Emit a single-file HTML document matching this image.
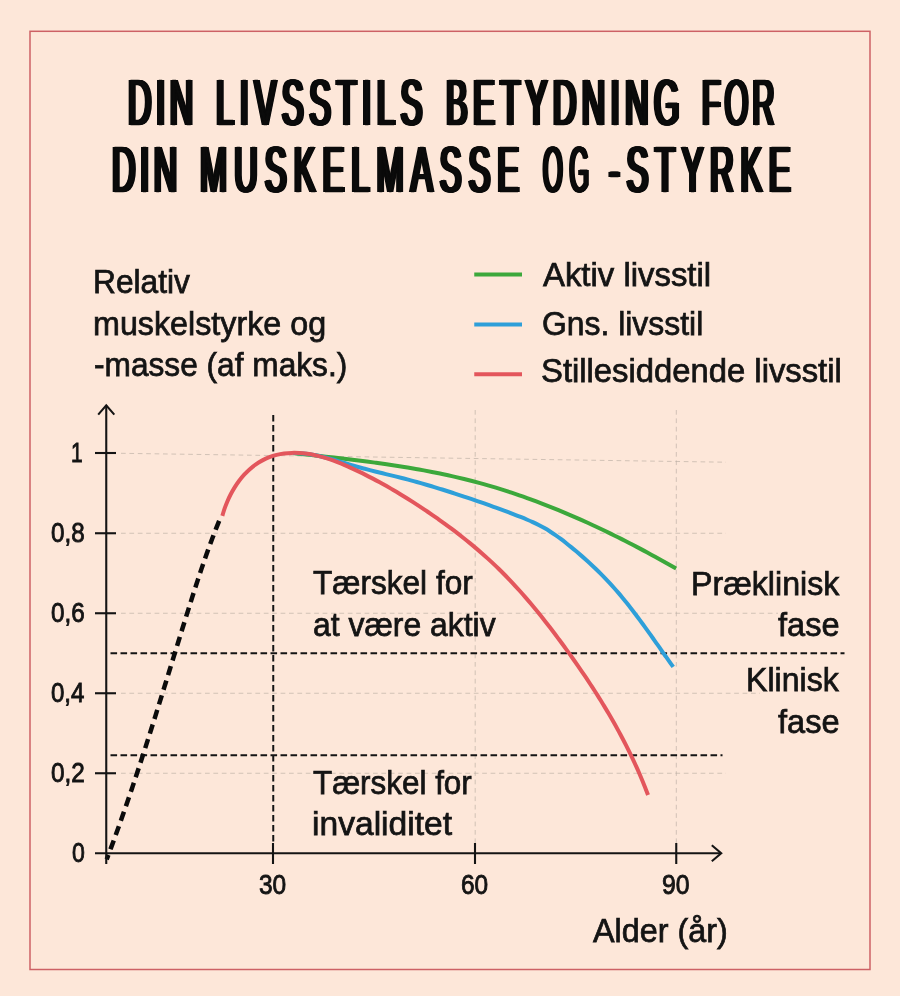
<!DOCTYPE html>
<html lang="da">
<head>
<meta charset="utf-8">
<title>Din livsstils betydning for din muskelmasse og -styrke</title>
<style>
html,body{margin:0;padding:0;background:#fde7d9;}
#page{position:relative;width:900px;height:996px;overflow:hidden;background:#fde7d9;font-family:"Liberation Sans", sans-serif;color:#141414;}
#page svg{position:absolute;left:0;top:0;}
.t{position:absolute;white-space:nowrap;line-height:1;transform-origin:0 0;margin:0;}
.b{font-size:33.5px;-webkit-text-stroke:0.75px #141414;}
.k{font-size:27.5px;-webkit-text-stroke:0.9px #141414;}
.w{position:absolute;left:0;top:0;transform-origin:0 0;}
.h{font-size:64.9px;font-weight:normal;color:#0b0b0b;-webkit-text-stroke:0.7px #0b0b0b;text-shadow:1.40px 0 0 #0b0b0b,-1.40px 0 0 #0b0b0b,2.80px 0 0 #0b0b0b,-2.80px 0 0 #0b0b0b,4.20px 0 0 #0b0b0b,-4.20px 0 0 #0b0b0b;}
</style>
</head>
<body>
<div id="page">
<svg width="900" height="996" viewBox="0 0 900 996" fill="none">
<rect x="30" y="31.3" width="840" height="938.2" stroke="#cd6165" stroke-width="1.5"/>
<g stroke="#b9ada2" stroke-width="0.65" stroke-dasharray="4.7 3.7">
<path d="M121,453.3 L726,462.2"/>
<path d="M121,533.25 H726"/>
<path d="M121,613.25 H778"/>
<path d="M121,693.25 H760"/>
<path d="M121,773.25 H726"/>
<path d="M475.2,410 V843"/>
<path d="M676.3,410 V843"/>
</g>
<g stroke="#141414" stroke-width="2" stroke-dasharray="6.6 3.4">
<path d="M110.5,653.25 H844.5"/>
<path d="M110.5,755.25 H722.5"/>
<path d="M273.25,415 V843"/>
</g>
<path d="M293.01,453.09 C294.37,453.23 298.45,453.67 301.18,453.96 C303.90,454.25 306.63,454.54 309.36,454.83 C312.09,455.13 314.82,455.42 317.55,455.72 C320.28,456.02 323.01,456.32 325.74,456.62 C328.47,456.92 331.20,457.23 333.94,457.54 C336.67,457.85 339.40,458.17 342.13,458.49 C344.87,458.80 347.60,459.13 350.33,459.46 C353.07,459.79 355.80,460.13 358.53,460.47 C361.26,460.81 363.99,461.16 366.72,461.52 C369.45,461.87 372.18,462.24 374.91,462.61 C377.64,462.98 380.37,463.36 383.09,463.75 C385.82,464.14 388.54,464.54 391.27,464.95 C393.99,465.36 396.71,465.77 399.43,466.20 C402.14,466.63 404.86,467.07 407.57,467.52 C410.29,467.98 413.00,468.44 415.71,468.91 C418.42,469.39 421.12,469.88 423.83,470.38 C426.53,470.88 429.23,471.39 431.93,471.92 C434.62,472.45 437.31,472.99 440.00,473.55 C442.69,474.11 445.38,474.68 448.06,475.27 C450.74,475.85 453.42,476.46 456.09,477.08 C458.77,477.70 461.44,478.33 464.10,478.99 C466.77,479.64 469.43,480.31 472.08,481.00 C474.74,481.69 477.39,482.40 480.03,483.12 C482.68,483.85 485.32,484.59 487.96,485.36 C490.59,486.12 493.22,486.90 495.85,487.70 C498.47,488.49 501.09,489.31 503.71,490.14 C506.32,490.97 508.93,491.82 511.54,492.68 C514.14,493.54 516.74,494.42 519.34,495.32 C521.93,496.22 524.53,497.13 527.11,498.06 C529.70,498.98 532.28,499.93 534.85,500.89 C537.43,501.84 540.00,502.82 542.56,503.80 C545.13,504.79 547.69,505.79 550.24,506.81 C552.80,507.82 555.35,508.85 557.89,509.90 C560.44,510.94 562.98,512.00 565.51,513.07 C568.05,514.14 570.57,515.22 573.10,516.32 C575.62,517.41 578.14,518.52 580.66,519.64 C583.17,520.76 585.68,521.90 588.19,523.04 C590.69,524.18 593.19,525.34 595.68,526.51 C598.18,527.68 600.67,528.85 603.15,530.04 C605.63,531.23 608.11,532.43 610.59,533.64 C613.06,534.85 615.53,536.08 617.99,537.31 C620.46,538.54 622.91,539.78 625.37,541.03 C627.82,542.28 630.27,543.54 632.71,544.81 C635.15,546.07 637.59,547.35 640.03,548.64 C642.46,549.92 644.89,551.22 647.31,552.52 C649.73,553.82 652.15,555.13 654.56,556.45 C656.97,557.77 659.38,559.09 661.78,560.42 C664.18,561.76 666.58,563.10 668.97,564.44 C671.36,565.79 674.94,567.82 676.13,568.50" stroke="#3ca83b" stroke-width="4"/>
<path d="M292.98,453.04 C294.09,453.07 297.43,453.06 299.64,453.18 C301.84,453.30 304.03,453.51 306.20,453.76 C308.38,454.02 310.54,454.35 312.69,454.72 C314.85,455.09 316.99,455.53 319.12,456.00 C321.26,456.46 323.38,456.98 325.50,457.52 C327.62,458.07 329.74,458.65 331.85,459.24 C333.96,459.83 336.06,460.46 338.17,461.08 C340.27,461.70 342.38,462.35 344.48,462.98 C346.58,463.62 348.69,464.26 350.79,464.88 C352.90,465.51 355.01,466.12 357.13,466.72 C359.24,467.31 361.36,467.89 363.48,468.46 C365.60,469.02 367.72,469.57 369.85,470.12 C371.97,470.66 374.10,471.19 376.23,471.72 C378.36,472.25 380.49,472.77 382.62,473.29 C384.75,473.81 386.89,474.33 389.02,474.85 C391.15,475.37 393.28,475.89 395.41,476.41 C397.54,476.94 399.67,477.47 401.79,478.01 C403.92,478.55 406.04,479.10 408.17,479.67 C410.29,480.23 412.41,480.80 414.52,481.38 C416.64,481.96 418.76,482.56 420.87,483.16 C422.98,483.76 425.09,484.37 427.20,484.99 C429.30,485.60 431.41,486.23 433.51,486.87 C435.61,487.50 437.71,488.14 439.81,488.79 C441.91,489.44 444.00,490.09 446.10,490.76 C448.19,491.42 450.28,492.08 452.37,492.76 C454.46,493.43 456.54,494.11 458.63,494.79 C460.71,495.47 462.79,496.16 464.87,496.85 C466.95,497.55 469.03,498.24 471.10,498.95 C473.18,499.65 475.25,500.36 477.32,501.07 C479.40,501.79 481.47,502.51 483.53,503.23 C485.60,503.96 487.67,504.69 489.74,505.43 C491.80,506.17 493.87,506.91 495.93,507.66 C497.99,508.41 500.05,509.16 502.11,509.92 C504.18,510.68 506.24,511.45 508.29,512.23 C510.35,513.00 512.41,513.78 514.47,514.57 C516.52,515.36 518.58,516.15 520.62,516.97 C522.67,517.79 524.71,518.62 526.73,519.47 C528.76,520.33 530.78,521.21 532.77,522.12 C534.76,523.04 536.74,523.98 538.69,524.98 C540.64,525.97 542.56,527.01 544.45,528.09 C546.35,529.18 548.21,530.32 550.05,531.49 C551.89,532.66 553.70,533.88 555.50,535.13 C557.29,536.38 559.06,537.66 560.82,538.97 C562.57,540.28 564.31,541.63 566.03,542.98 C567.76,544.34 569.46,545.72 571.16,547.12 C572.87,548.51 574.56,549.92 576.24,551.34 C577.92,552.76 579.59,554.19 581.25,555.63 C582.92,557.07 584.57,558.53 586.21,560.00 C587.85,561.47 589.48,562.95 591.09,564.44 C592.70,565.94 594.31,567.44 595.89,568.97 C597.48,570.49 599.05,572.03 600.60,573.58 C602.16,575.13 603.70,576.70 605.22,578.28 C606.74,579.86 608.24,581.46 609.73,583.07 C611.21,584.68 612.68,586.31 614.13,587.95 C615.58,589.59 617.02,591.25 618.44,592.91 C619.86,594.58 621.27,596.26 622.66,597.95 C624.05,599.64 625.43,601.34 626.80,603.06 C628.17,604.77 629.53,606.49 630.87,608.22 C632.22,609.95 633.55,611.69 634.88,613.44 C636.20,615.19 637.52,616.94 638.83,618.70 C640.14,620.46 641.43,622.23 642.73,624.01 C644.02,625.78 645.31,627.56 646.59,629.34 C647.88,631.12 649.15,632.91 650.42,634.70 C651.70,636.49 652.97,638.28 654.23,640.08 C655.50,641.87 656.76,643.67 658.03,645.46 C659.29,647.26 660.55,649.05 661.82,650.85 C663.08,652.64 664.34,654.44 665.60,656.23 C666.87,658.02 668.13,659.82 669.40,661.60 C670.67,663.39 672.58,666.06 673.22,666.96" stroke="#2e9fd9" stroke-width="4"/>
<path d="M222.33,515.94 C222.70,514.73 223.71,511.11 224.55,508.69 C225.38,506.27 226.32,503.82 227.35,501.42 C228.38,499.02 229.51,496.61 230.73,494.26 C231.95,491.91 233.26,489.58 234.67,487.33 C236.08,485.08 237.58,482.87 239.17,480.76 C240.76,478.65 242.44,476.60 244.21,474.67 C245.98,472.74 247.84,470.89 249.79,469.17 C251.73,467.46 253.77,465.86 255.87,464.39 C257.97,462.92 260.16,461.58 262.40,460.38 C264.64,459.18 266.96,458.11 269.32,457.20 C271.68,456.29 274.11,455.53 276.56,454.91 C279.02,454.29 281.53,453.83 284.06,453.50 C286.59,453.16 289.15,452.98 291.73,452.90 C294.30,452.82 296.90,452.88 299.49,453.03 C302.09,453.19 304.69,453.47 307.28,453.84 C309.87,454.20 312.45,454.68 315.01,455.23 C317.57,455.78 320.11,456.42 322.62,457.13 C325.14,457.84 327.63,458.64 330.10,459.48 C332.58,460.32 335.03,461.23 337.47,462.18 C339.90,463.12 342.32,464.13 344.73,465.16 C347.13,466.18 349.52,467.25 351.89,468.34 C354.26,469.42 356.62,470.53 358.97,471.65 C361.31,472.78 363.64,473.92 365.96,475.09 C368.28,476.25 370.59,477.44 372.88,478.64 C375.18,479.84 377.46,481.07 379.73,482.31 C382.00,483.55 384.26,484.81 386.51,486.08 C388.76,487.36 391.00,488.65 393.23,489.96 C395.46,491.26 397.68,492.59 399.89,493.93 C402.11,495.27 404.31,496.62 406.50,497.99 C408.70,499.36 410.88,500.75 413.06,502.14 C415.24,503.54 417.41,504.95 419.57,506.37 C421.74,507.80 423.90,509.23 426.05,510.68 C428.20,512.13 430.34,513.59 432.48,515.07 C434.61,516.54 436.74,518.03 438.86,519.53 C440.98,521.03 443.09,522.55 445.19,524.08 C447.29,525.61 449.39,527.15 451.47,528.71 C453.55,530.26 455.62,531.83 457.67,533.42 C459.73,535.01 461.78,536.61 463.81,538.22 C465.85,539.84 467.87,541.47 469.88,543.12 C471.89,544.76 473.88,546.42 475.86,548.10 C477.84,549.78 479.81,551.47 481.76,553.18 C483.71,554.90 485.65,556.62 487.57,558.37 C489.49,560.11 491.39,561.87 493.28,563.65 C495.16,565.43 497.03,567.22 498.88,569.03 C500.74,570.84 502.57,572.67 504.39,574.52 C506.21,576.36 508.01,578.22 509.80,580.10 C511.58,581.97 513.35,583.87 515.11,585.77 C516.86,587.68 518.60,589.60 520.33,591.53 C522.06,593.46 523.77,595.41 525.47,597.36 C527.17,599.32 528.86,601.29 530.53,603.28 C532.20,605.26 533.86,607.25 535.51,609.26 C537.16,611.26 538.80,613.28 540.42,615.30 C542.05,617.33 543.66,619.36 545.27,621.41 C546.87,623.45 548.46,625.50 550.05,627.56 C551.63,629.62 553.20,631.69 554.77,633.77 C556.33,635.84 557.89,637.93 559.44,640.02 C560.98,642.11 562.52,644.20 564.05,646.30 C565.58,648.40 567.11,650.51 568.62,652.62 C570.14,654.73 571.65,656.85 573.15,658.97 C574.65,661.09 576.14,663.22 577.62,665.36 C579.10,667.49 580.57,669.63 582.04,671.78 C583.50,673.92 584.95,676.08 586.40,678.23 C587.84,680.39 589.27,682.56 590.69,684.73 C592.11,686.90 593.53,689.08 594.92,691.26 C596.32,693.45 597.71,695.64 599.09,697.84 C600.46,700.04 601.83,702.25 603.18,704.46 C604.53,706.67 605.86,708.89 607.19,711.12 C608.51,713.35 609.82,715.58 611.12,717.83 C612.42,720.07 613.70,722.32 614.97,724.58 C616.24,726.84 617.49,729.11 618.73,731.38 C619.97,733.66 621.19,735.94 622.40,738.24 C623.60,740.53 624.80,742.83 625.97,745.14 C627.15,747.45 628.31,749.77 629.45,752.09 C630.59,754.42 631.72,756.76 632.82,759.10 C633.93,761.45 635.02,763.80 636.09,766.17 C637.16,768.53 638.22,770.90 639.25,773.29 C640.28,775.67 641.30,778.06 642.30,780.47 C643.29,782.87 644.27,785.28 645.23,787.71 C646.18,790.13 647.57,793.79 648.03,795.00" stroke="#e3565c" stroke-width="4"/>
<path d="M106.69,859.36 C107.42,857.41 109.63,851.56 111.08,847.65 C112.53,843.74 113.97,839.83 115.39,835.91 C116.82,831.99 118.23,828.07 119.62,824.14 C121.02,820.22 122.41,816.28 123.78,812.35 C125.15,808.41 126.51,804.47 127.86,800.53 C129.21,796.59 130.55,792.64 131.88,788.69 C133.21,784.74 134.53,780.79 135.85,776.83 C137.16,772.88 138.46,768.92 139.75,764.96 C141.05,760.99 142.33,757.03 143.61,753.06 C144.89,749.10 146.17,745.13 147.43,741.16 C148.70,737.19 149.96,733.21 151.22,729.24 C152.47,725.26 153.72,721.29 154.97,717.31 C156.21,713.33 157.46,709.35 158.69,705.37 C159.93,701.39 161.17,697.41 162.40,693.43 C163.63,689.45 164.86,685.46 166.09,681.48 C167.32,677.50 168.55,673.52 169.78,669.53 C171.00,665.55 172.23,661.57 173.46,657.58 C174.68,653.60 175.91,649.62 177.14,645.63 C178.37,641.65 179.60,637.67 180.83,633.69 C182.06,629.71 183.30,625.73 184.54,621.75 C185.77,617.77 187.01,613.79 188.26,609.82 C189.51,605.84 190.75,601.87 192.02,597.90 C193.28,593.93 194.54,589.96 195.83,586.00 C197.11,582.04 198.41,578.08 199.72,574.13 C201.04,570.18 202.37,566.24 203.73,562.30 C205.08,558.36 206.46,554.44 207.86,550.52 C209.27,546.60 210.70,542.69 212.16,538.79 C213.63,534.90 215.12,531.01 216.65,527.14 C218.18,523.26 220.57,517.48 221.35,515.55" stroke="#0b0b0b" stroke-width="4.5" stroke-dasharray="9.5 5.8" stroke-dashoffset="4.7"/>
<path d="M474.25,274.5 H522" stroke="#3ca83b" stroke-width="4"/>
<path d="M474.25,324.4 H522" stroke="#2e9fd9" stroke-width="4"/>
<path d="M474.25,374.3 H522" stroke="#e3565c" stroke-width="4"/>
<g stroke="#141414" stroke-width="2.1">
<path d="M106.25,405.5 V864"/>
<path d="M95,853.25 H721"/>
<path d="M95,453 H116"/>
<path d="M95,533.25 H116"/>
<path d="M95,613.25 H116"/>
<path d="M95,693.25 H116"/>
<path d="M95,773.25 H116"/>
<path d="M273,843 V864"/>
<path d="M475,843 V864"/>
<path d="M676.25,843 V864"/>
<path d="M98.2,414.6 L106.25,405.4 L114.3,414.6" stroke-linejoin="miter"/>
<path d="M711.8,845.3 L721.2,853.25 L711.8,861.2" stroke-linejoin="miter"/>
</g>
</svg>
<div class="t h" style="left:0;top:70.50px;width:900px;height:65px"><span class="w" style="left:127.78px;letter-spacing:9.30px;transform:scaleX(0.500)">DIN</span> <span class="w" style="left:215.78px;letter-spacing:11.45px;transform:scaleX(0.500)">LIVSSTILS</span> <span class="w" style="left:445.77px;letter-spacing:11.03px;transform:scaleX(0.500)">BETYDNING</span> <span class="w" style="left:701.79px;letter-spacing:8.55px;transform:scaleX(0.470)">FOR</span></div>
<div class="t h" style="left:0;top:137.70px;width:900px;height:65px"><span class="w" style="left:111.78px;letter-spacing:9.30px;transform:scaleX(0.500)">DIN</span> <span class="w" style="left:199.78px;letter-spacing:14.42px;transform:scaleX(0.500)">MUSKELMASSE</span> <span class="w" style="left:542.60px;letter-spacing:17.43px;transform:scaleX(0.390)">OG</span> <span class="w" style="left:609.27px;letter-spacing:13.66px;transform:scaleX(0.500)">-STYRKE</span></div>
<div class="t b" style="left:92.88px;top:264.69px;transform:scaleX(0.9464)">Relativ</div>
<div class="t b" style="left:93.33px;top:307.19px;transform:scaleX(0.9631)">muskelstyrke og</div>
<div class="t b" style="left:93.56px;top:348.44px;transform:scaleX(0.9448)">-masse (af maks.)</div>
<div class="t b" style="left:542.80px;top:258.19px;transform:scaleX(0.9815)">Aktiv livsstil</div>
<div class="t b" style="left:541.61px;top:307.19px;transform:scaleX(0.9519)">Gns. livsstil</div>
<div class="t b" style="left:541.32px;top:353.94px;transform:scaleX(0.9791)">Stillesiddende livsstil</div>
<div class="t b" style="left:312.55px;top:566.44px;transform:scaleX(0.9434)">Tærskel for</div>
<div class="t b" style="left:313.35px;top:608.44px;transform:scaleX(0.9523)">at være aktiv</div>
<div class="t b" style="left:312.55px;top:765.69px;transform:scaleX(0.9375)">Tærskel for</div>
<div class="t b" style="left:312.26px;top:807.44px;transform:scaleX(1.0029)">invaliditet</div>
<div class="t b" style="left:690.64px;top:566.69px;transform:scaleX(0.9601)">Præklinisk</div>
<div class="t b" style="left:778.30px;top:608.44px;transform:scaleX(0.9716)">fase</div>
<div class="t b" style="left:745.64px;top:663.44px;transform:scaleX(0.9589)">Klinisk</div>
<div class="t b" style="left:778.30px;top:705.44px;transform:scaleX(0.9716)">fase</div>
<div class="t b" style="left:592.80px;top:913.94px;transform:scaleX(0.9653)">Alder (år)</div>
<div class="t k" style="left:70.88px;top:438.72px;transform:scaleX(0.7650)">1</div>
<div class="t k" style="left:50.80px;top:518.72px;transform:scaleX(0.8808)">0,8</div>
<div class="t k" style="left:50.80px;top:598.72px;transform:scaleX(0.8808)">0,6</div>
<div class="t k" style="left:50.80px;top:678.72px;transform:scaleX(0.8739)">0,4</div>
<div class="t k" style="left:50.78px;top:758.72px;transform:scaleX(0.8844)">0,2</div>
<div class="t k" style="left:71.67px;top:838.72px;transform:scaleX(0.8384)">0</div>
<div class="t k" style="left:259.00px;top:871.47px;transform:scaleX(0.8886)">30</div>
<div class="t k" style="left:461.05px;top:871.47px;transform:scaleX(0.8870)">60</div>
<div class="t k" style="left:662.04px;top:871.47px;transform:scaleX(0.8991)">90</div>
</div>
</body>
</html>
